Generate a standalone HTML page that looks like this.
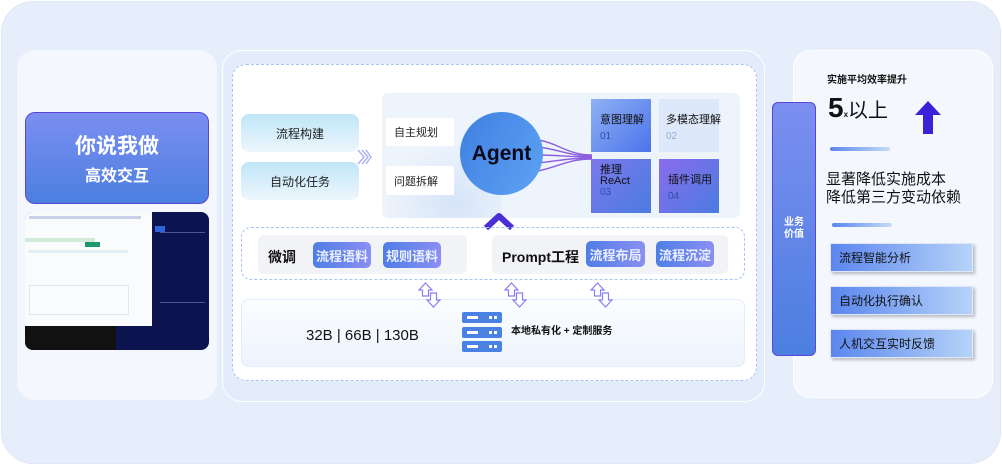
<!DOCTYPE html>
<html><head><meta charset="utf-8"><style>
*{margin:0;padding:0;box-sizing:border-box}
body{width:1002px;height:465px;background:#fff;font-family:"Liberation Sans","Noto Sans CJK SC",sans-serif;position:relative;overflow:hidden}
.a{position:absolute}
.c{display:flex;align-items:center;justify-content:center}
.btn{background:linear-gradient(90deg,#4f7ee6,#8b8ff2);color:#eaf0ff;border-radius:5px;font-size:13px;font-weight:bold}
.sq{color:#111;font-size:11px;padding:12px 0 0 9px;white-space:nowrap}
.sq span{display:block;color:#9aa8d8;font-size:10px;margin-top:4px}
.rb{background:linear-gradient(90deg,#5b86ee,#b6d3f8);font-size:12px;color:#111;padding-left:8px;display:flex;align-items:center;box-shadow:2px 2px 3px rgba(0,0,0,.25);border:1px solid #dfe8fb}
</style></head><body>
<div class="a" style="left:1px;top:1px;width:1000px;height:463px;border-radius:32px;background:#e7eefb;border:1px solid #dfe7f7"></div>
<!-- left panel -->
<div class="a" style="left:17px;top:50px;width:200px;height:350px;border-radius:18px;background:#f4f8fe"></div>
<div class="a c" style="left:25px;top:112px;width:184px;height:92px;border-radius:10px;background:linear-gradient(180deg,#7b8ef1,#4b7fe0);border:1px solid #5a45d8;flex-direction:column;color:#fff">
<div style="font-size:21px;font-weight:bold">你说我做</div><div style="font-size:16px;font-weight:bold;margin-top:2px">高效交互</div></div>
<div class="a" style="left:25px;top:212px;width:184px;height:138px;border-radius:8px;background:#0c1450;overflow:hidden">
<div class="a" style="left:0;top:0;width:127px;height:114px;background:#fafbfc"></div>
<div class="a" style="left:4px;top:4px;width:112px;height:3px;background:#c8d0e8"></div>
<div class="a" style="left:0;top:26px;width:70px;height:4px;background:#d3ead9"></div>
<div class="a" style="left:60px;top:30px;width:15px;height:5px;background:#1e9a6a"></div>
<div class="a" style="left:3px;top:38px;width:100px;height:3px;background:#e3eef5"></div>
<div class="a" style="left:4px;top:73px;width:100px;height:30px;border:1px solid #e6e6e6"></div>
<div class="a" style="left:0;top:114px;width:91px;height:24px;background:#111"></div>
<div class="a" style="left:135px;top:20px;width:45px;height:1px;background:#4b5890"></div>
<div class="a" style="left:135px;top:90px;width:45px;height:1px;background:#4b5890"></div>
<div class="a" style="left:130px;top:14px;width:10px;height:6px;background:#2f62d8"></div>
</div>
<!-- center panel -->
<div class="a" style="left:222px;top:50px;width:543px;height:352px;border-radius:20px;background:#e3ecfb;border:1px solid #fff"></div>
<div class="a" style="left:232px;top:64px;width:525px;height:317px;border-radius:14px;background:#fff;border:1px dashed #a9c2f2"></div>
<div class="a c" style="left:241px;top:114px;width:118px;height:38px;border-radius:8px;background:linear-gradient(180deg,#bfe6f8,#eef6fd);font-size:12px;color:#222">流程构建</div>
<div class="a c" style="left:241px;top:162px;width:118px;height:38px;border-radius:8px;background:linear-gradient(180deg,#bfe6f8,#eef6fd);font-size:12px;color:#222">自动化任务</div>
<svg class="a" style="left:356px;top:148px" width="16" height="18"><g stroke="#aab4f4" stroke-width="1.5" fill="none"><path d="M2 2 L8 9 L2 16"/><path d="M6 2 L12 9 L6 16"/><path d="M10 2 L15 9 L10 16"/></g></svg>
<div class="a" style="left:382px;top:93px;width:358px;height:125px;border-radius:6px;background:#eef4fc"></div>
<div class="a" style="left:382px;top:140px;width:120px;height:78px;background:radial-gradient(ellipse at 60% 80%,#d6e4f8,transparent 70%)"></div>
<div class="a c" style="left:386px;top:118px;width:68px;height:28px;background:#fff;font-size:11px;color:#222;justify-content:flex-start;padding-left:8px">自主规划</div>
<div class="a c" style="left:386px;top:166px;width:68px;height:29px;background:#fff;font-size:11px;color:#222;justify-content:flex-start;padding-left:8px">问题拆解</div>
<svg class="a" style="left:538px;top:135px" width="56" height="45"><g stroke="#8d5fe0" stroke-width="1.4" fill="none">
<path d="M0 5 C20 8 30 20 54 20"/><path d="M0 12 C20 14 30 21 54 21"/><path d="M0 20 C20 20 30 22 54 22"/><path d="M0 28 C20 26 30 23 54 23"/><path d="M0 36 C20 32 30 24 54 24"/></g></svg>
<div class="a c" style="left:460px;top:112px;width:83px;height:83px;border-radius:50%;background:linear-gradient(120deg,#3f7fe0,#5ea3f5);font-size:21px;font-weight:bold;color:#0a0a1a">Agent</div>
<div class="a sq" style="left:591px;top:99px;width:60px;height:53px;background:linear-gradient(135deg,#8fb1f5,#4b74ea)">意图理解<span style="color:#2e4fa8">01</span></div>
<div class="a sq" style="left:659px;top:99px;width:60px;height:53px;background:#dde8fb;padding-left:7px">多模态理解<span>02</span></div>
<div class="a sq" style="left:591px;top:159px;width:60px;height:54px;background:linear-gradient(135deg,#7c78ec,#4a7ce0);padding-top:6px;line-height:11px">推理<br>ReAct<span style="color:#2e4fa8;margin-top:0">03</span></div>
<div class="a sq" style="left:659px;top:159px;width:60px;height:54px;background:linear-gradient(135deg,#8a6cec,#4a7ce0)">插件调用<span style="color:#2e4fa8">04</span></div>
<svg class="a" style="left:482px;top:210px" width="34" height="22"><path d="M4 18 L17 6 L30 18" stroke="#4a2ed8" stroke-width="6" fill="none" stroke-linejoin="round"/></svg>
<div class="a" style="left:241px;top:227px;width:504px;height:53px;border-radius:10px;border:1px dashed #a9c2f2"></div>
<div class="a" style="left:258px;top:235px;width:209px;height:39px;border-radius:6px;background:#f1f3f7"></div>
<div class="a" style="left:492px;top:235px;width:236px;height:39px;border-radius:6px;background:#f1f3f7"></div>
<div class="a" style="left:268px;top:247px;font-size:14px;font-weight:bold;color:#111">微调</div>
<div class="a c btn" style="left:313px;top:242px;width:58px;height:26px">流程语料</div>
<div class="a c btn" style="left:383px;top:242px;width:58px;height:26px">规则语料</div>
<div class="a" style="left:502px;top:247px;font-size:14px;font-weight:bold;color:#111">Prompt工程</div>
<div class="a c btn" style="left:586px;top:241px;width:59px;height:26px">流程布局</div>
<div class="a c btn" style="left:656px;top:241px;width:58px;height:26px">流程沉淀</div>
<div class="a" style="left:241px;top:299px;width:504px;height:68px;border-radius:8px;background:linear-gradient(180deg,#fbfdff,#edf4fd);border:1px solid #e1ebfa"></div>
<svg class="a" style="left:418px;top:282px" width="220" height="28"><g stroke="#8a7ef0" stroke-width="1.2" fill="#fff">
<g><path d="M1 8 L7.5 1 L14 8 L10.5 8 L10.5 14 L4.5 14 L4.5 8 Z"/><path d="M9 18 L12.5 18 L12.5 11 L18.5 11 L18.5 18 L22 18 L15.5 25 Z"/></g>
<g transform="translate(86,0)"><path d="M1 8 L7.5 1 L14 8 L10.5 8 L10.5 14 L4.5 14 L4.5 8 Z"/><path d="M9 18 L12.5 18 L12.5 11 L18.5 11 L18.5 18 L22 18 L15.5 25 Z"/></g>
<g transform="translate(172,0)"><path d="M1 8 L7.5 1 L14 8 L10.5 8 L10.5 14 L4.5 14 L4.5 8 Z"/><path d="M9 18 L12.5 18 L12.5 11 L18.5 11 L18.5 18 L22 18 L15.5 25 Z"/></g></g></svg>
<div class="a" style="left:306px;top:327px;font-size:15px;color:#111">32B | 66B | 130B</div>
<div class="a" style="left:462px;top:312px;width:40px;height:40px">
<div class="a" style="left:0;top:0;width:40px;height:11px;background:#4a82e4;border-radius:2px"></div>
<div class="a" style="left:0;top:15px;width:40px;height:11px;background:#4a82e4;border-radius:2px"></div>
<div class="a" style="left:0;top:29px;width:40px;height:11px;background:#4a82e4;border-radius:2px"></div>
<div class="a" style="left:5px;top:4px;width:11px;height:3px;background:#fff"></div>
<div class="a" style="left:5px;top:19px;width:11px;height:3px;background:#fff"></div>
<div class="a" style="left:5px;top:33px;width:11px;height:3px;background:#fff"></div>
<div class="a" style="left:27px;top:4px;width:3px;height:3px;background:#fff"></div><div class="a" style="left:32px;top:4px;width:3px;height:3px;background:#fff"></div>
<div class="a" style="left:27px;top:19px;width:3px;height:3px;background:#fff"></div><div class="a" style="left:32px;top:19px;width:3px;height:3px;background:#fff"></div>
<div class="a" style="left:27px;top:33px;width:3px;height:3px;background:#fff"></div><div class="a" style="left:32px;top:33px;width:3px;height:3px;background:#fff"></div>
</div>
<div class="a" style="left:511px;top:322px;font-size:10px;font-weight:bold;color:#111">本地私有化 + 定制服务</div>
<!-- right -->
<div class="a" style="left:793px;top:50px;width:200px;height:348px;border-radius:18px;background:#f4f8fe;border:1px solid #fff"></div>
<div class="a c" style="left:772px;top:102px;width:44px;height:254px;border-radius:6px;background:linear-gradient(180deg,#7b8ef1,#4b7fe0);border:1px solid #5a45d8;color:#fff;font-size:10px;font-weight:bold;text-align:center;line-height:12px">业务<br>价值</div>
<div class="a" style="left:827px;top:71px;font-size:10px;font-weight:bold;color:#111">实施平均效率提升</div>
<div class="a" style="left:828px;top:93px;font-size:28px;font-weight:bold;color:#111;line-height:30px">5<span style="font-size:8px">x</span><span style="font-size:20px;font-weight:normal">以上</span></div>
<svg class="a" style="left:913px;top:100px" width="30" height="36"><path d="M15 1 L28 15 L20 15 L20 34 L10 34 L10 15 L2 15 Z" fill="#3a20d6"/></svg>
<div class="a" style="left:830px;top:147px;width:60px;height:4px;border-radius:2px;background:linear-gradient(90deg,#5b86ee,#c6dcf8)"></div>
<div class="a" style="left:826px;top:171px;font-size:15px;color:#111;line-height:18px">显著降低实施成本<br>降低第三方变动依赖</div>
<div class="a" style="left:832px;top:223px;width:60px;height:4px;border-radius:2px;background:linear-gradient(90deg,#5b86ee,#c6dcf8)"></div>
<div class="a rb" style="left:830px;top:243px;width:143px;height:29px">流程智能分析</div>
<div class="a rb" style="left:830px;top:286px;width:143px;height:29px">自动化执行确认</div>
<div class="a rb" style="left:830px;top:329px;width:143px;height:29px">人机交互实时反馈</div>
</body></html>
